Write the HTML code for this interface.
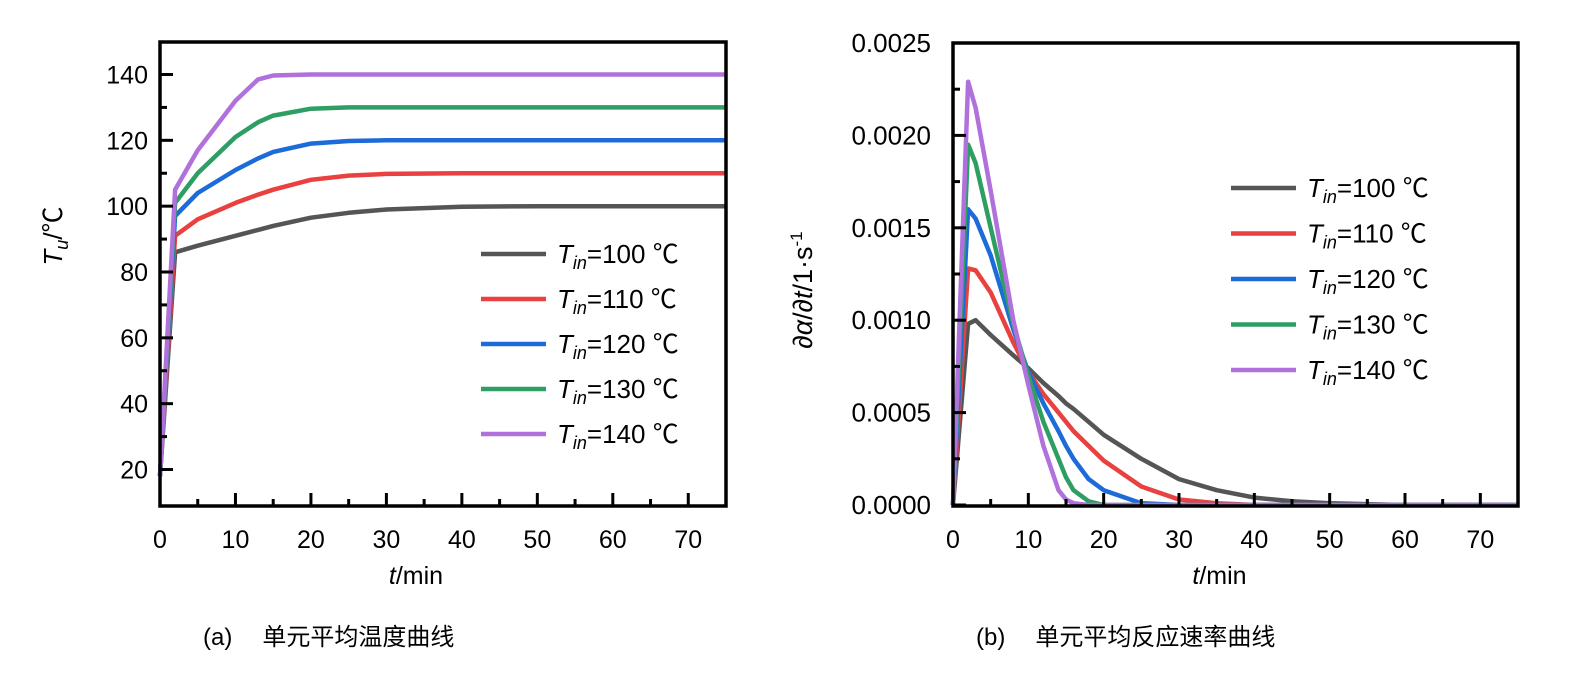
<!DOCTYPE html>
<html><head><meta charset="utf-8"><style>
body{margin:0;background:#fff;}
svg{display:block;font-family:"Liberation Sans","Noto Sans CJK SC",sans-serif;}
.cjk{font-family:"Noto Sans CJK SC",sans-serif;}
</style></head><body>
<svg id="svg" width="1583" height="677" viewBox="0 0 1583 677">
<g id="ga"></g>
<g id="gb"></g>
<text x="203" y="645" font-size="24">(a)<tspan dx="30">单元平均温度曲线</tspan></text>
<text x="976" y="645" font-size="24">(b)<tspan dx="30">单元平均反应速率曲线</tspan></text>
</svg>
<script>
const NS="http://www.w3.org/2000/svg";
const colors=["#555555","#e8413f","#1d6bd8","#2e9e62","#b071dc"];
const seriesNames=["100","110","120","130","140"];
// chart a
const timesA=[0,2,5,10,13,15,20,25,30,40,50,75];
const tempGray=[18,86,88,91,92.8,94,96.5,98,99,99.8,100,100];
const tempRed=[18,91,96,101,103.5,105,108,109.3,109.8,110,110,110];
const tempBlue=[18,97,104,111,114.5,116.5,119,119.8,120,120,120,120];
const tempGreen=[18,101,110,121,125.5,127.5,129.6,130,130,130,130,130];
const tempPurple=[18,105,117,132,138.5,139.7,140,140,140,140,140,140];
const yTicksA=[20,40,60,80,100,120,140];
const xTicks=[0,10,20,30,40,50,60,70];
// chart b
const timesB=[0,2,3,5,8,10,12,14,15,16,18,20,25,30,35,40,45,50,60,75];
const rateGray=[0,0.00098,0.00100,0.00092,0.00081,0.00074,0.00066,0.00059,0.00055,0.00052,0.00045,0.00038,0.00025,0.00014,0.00008,0.00004,0.00002,0.00001,0,0];
const rateRed=[0,0.00128,0.00127,0.00115,0.00088,0.00072,0.00060,0.00050,0.00045,0.00040,0.00032,0.00024,0.00010,0.00003,0.00001,0,0,0,0,0];
const rateBlue=[0,0.00160,0.00155,0.00135,0.00095,0.00072,0.00055,0.00040,0.00032,0.00025,0.00014,0.00008,0.00001,0,0,0,0,0,0,0];
const rateGreen=[0,0.00195,0.00185,0.00150,0.00098,0.00070,0.00045,0.00025,0.00015,0.00008,0.00002,0,0,0,0,0,0,0,0,0];
const ratePurple=[0,0.00229,0.00215,0.00170,0.00100,0.00065,0.00032,0.00008,0.00003,0.00001,0,0,0,0,0,0,0,0,0,0];
const yTicksB=[0,0.0005,0.001,0.0015,0.002,0.0025];
const yLabelsB=["0.0000","0.0005","0.0010","0.0015","0.0020","0.0025"];

function el(p,tag,attrs){const e=document.createElementNS(NS,tag);for(const k in attrs)e.setAttribute(k,attrs[k]);p.appendChild(e);return e;}

function chart(g,cfg){
  const X=t=>cfg.x0+(t-0)*(cfg.x1-cfg.x0)/75;
  const Y=v=>cfg.yA+(v-cfg.vA)*(cfg.yB-cfg.yA)/(cfg.vB-cfg.vA);
  cfg.series.forEach((s,i)=>{
    let d="";s.forEach((v,j)=>{d+=(j?"L":"M")+X(cfg.times[j]).toFixed(1)+","+Y(v).toFixed(1);});
    const p=el(g,"path",{d:d,fill:"none",stroke:colors[i],"stroke-width":4.5,"stroke-linejoin":"round"});
    
    
  });
  const f=el(g,"rect",{x:cfg.x0,y:cfg.top,width:cfg.x1-cfg.x0,height:cfg.bot-cfg.top,fill:"none",stroke:"#000","stroke-width":3.5});
  
  
  for(let t=5;t<=75;t+=5){
    const L=(t%10===0)?13:7;
    const tk=el(g,"line",{x1:X(t),x2:X(t),y1:cfg.bot,y2:cfg.bot-L,stroke:"#000","stroke-width":3});
    
    
  }
  xTicks.forEach(t=>{
    const tx=el(g,"text",{x:X(t),y:cfg.bot+42,"font-size":25,"text-anchor":"middle"});tx.textContent=t;
    
    
  });
  cfg.minor.forEach(v=>{
    const tk=el(g,"line",{x1:cfg.x0,x2:cfg.x0+7,y1:Y(v),y2:Y(v),stroke:"#000","stroke-width":3});
    
    
  });
  cfg.yTicks.forEach((v,i)=>{
    const tk=el(g,"line",{x1:cfg.x0,x2:cfg.x0+13,y1:Y(v),y2:Y(v),stroke:"#000","stroke-width":3});
    
    
    const tx=el(g,"text",{x:cfg.x0-cfg.yLabGap,y:Y(v)+9,"font-size":cfg.yFont,"text-anchor":"end"});tx.textContent=cfg.yLabels[i];
    
    
  });
  const xt=el(g,"text",{x:(cfg.x0+cfg.x1)/2+(cfg.xtOff||0),y:cfg.bot+78,"font-size":25,"text-anchor":"middle"});
  xt.innerHTML='<tspan font-style="italic">t</tspan>/min';
  
  
  seriesNames.forEach((n,i)=>{
    const y=cfg.legY+i*cfg.legDy;
    const ln=el(g,"line",{x1:cfg.legX,x2:cfg.legX+65,y1:y,y2:y,stroke:colors[i],"stroke-width":4.5});
    
    
    const tx=el(g,"text",{x:cfg.legX+76,y:y+9,"font-size":26});
    tx.innerHTML='<tspan font-style="italic">T</tspan><tspan font-style="italic" font-size="18" dy="6">in</tspan><tspan dy="-6">='+n+' </tspan><tspan class="cjk">℃</tspan>';
    
    
  });
}

const minorA=[30,50,70,90,110,130];
chart(document.getElementById("ga"),{x0:160,x1:726,top:42,bot:506,vA:20,yA:469.5,vB:140,yB:74.5,
  times:timesA,series:[tempGray,tempRed,tempBlue,tempGreen,tempPurple],yTicks:yTicksA,yLabels:yTicksA.map(String),
  minor:minorA,legX:481,legY:254,legDy:45,xtOff:-27,yFont:25,yLabGap:12});
const minorB=[0.00025,0.00075,0.00125,0.00175,0.00225];
chart(document.getElementById("gb"),{x0:953,x1:1518,top:43,bot:506,vA:0,yA:505,vB:0.0025,yB:43,
  times:timesB,series:[rateGray,rateRed,rateBlue,rateGreen,ratePurple],yTicks:yTicksB,yLabels:yLabelsB,
  minor:minorB,legX:1231,legY:188,legDy:45.5,xtOff:-16,yFont:26,yLabGap:22});

const s=document.getElementById("svg");
const ya=el(s,"text",{transform:"translate(62,236) rotate(-90)","font-size":26,"text-anchor":"middle"});
ya.innerHTML='<tspan font-style="italic">T</tspan><tspan font-style="italic" font-size="18" dy="6">u</tspan><tspan dy="-6">/</tspan><tspan class="cjk">℃</tspan>';


const yb=el(s,"text",{transform:"translate(812,290) rotate(-90)","font-size":27,"text-anchor":"middle"});
yb.innerHTML='<tspan font-style="italic">∂α</tspan>/<tspan font-style="italic">∂t</tspan>/1·s<tspan font-size="17" dy="-10">-1</tspan>';


</script>
</body></html>
